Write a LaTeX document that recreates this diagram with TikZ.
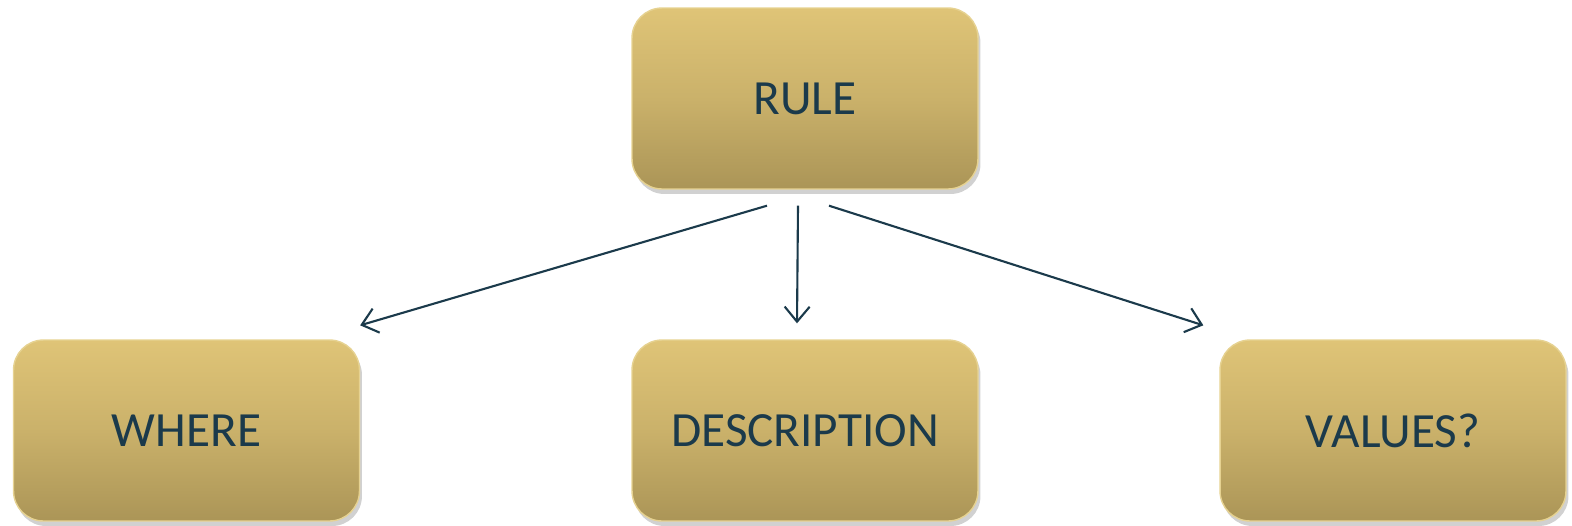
\documentclass[tikz,border=0pt]{standalone}
\usepackage{fontspec}
\setmainfont{Carlito}
\usetikzlibrary{arrows.meta,shadows}
\definecolor{boxtop}{HTML}{DFC477}
\definecolor{boxbot}{HTML}{AB9557}
\definecolor{boxline}{HTML}{E6D291}
\definecolor{ink}{HTML}{1B3A4B}
\tikzset{
	box/.style={rectangle, rounded corners=0.6cm, minimum width=6.92cm, minimum height=3.62cm,
		top color=boxtop, bottom color=boxbot, middle color=boxtop!60!boxbot, shading angle=0,
		draw=boxline, line width=0.8pt, text=ink, font=\fontsize{28}{30}\selectfont,
		drop shadow={shadow xshift=0.05cm, shadow yshift=-0.1cm, opacity=0.3, fill=black!60}},
	arr/.style={draw=ink, line width=1.2pt, -{Straight Barb[length=0.3cm, width=0.5cm, line width=1.2pt]}}
}
\begin{document}
\begin{tikzpicture}[x=0.02cm, y=-0.02cm]
	\useasboundingbox (0,0) rectangle (1572,525);
	\node [box] (rule) at (805,98.5) {RULE};
	\node [box] (where) at (186.5,430.5) {WHERE};
	\node [box] (desc) at (805,430.5) {DESCRIPTION};
	\node [box] (values) at (1393,430.5) {VALUES?};
	\coordinate (r1) at ([shift={(-38,16)}]rule.south);
	\coordinate (r2) at ([shift={(-7,16)}]rule.south);
	\coordinate (r3) at ([shift={(24,16)}]rule.south);
	\draw [arr] (r1) -- ([shift={(0,-14)}]where.north east);
	\draw [arr] (r2) -- ([shift={(-8,-16)}]desc.north);
	\draw [arr] (r3) -- ([shift={(-16,-14)}]values.north west);
\end{tikzpicture}
\end{document}
